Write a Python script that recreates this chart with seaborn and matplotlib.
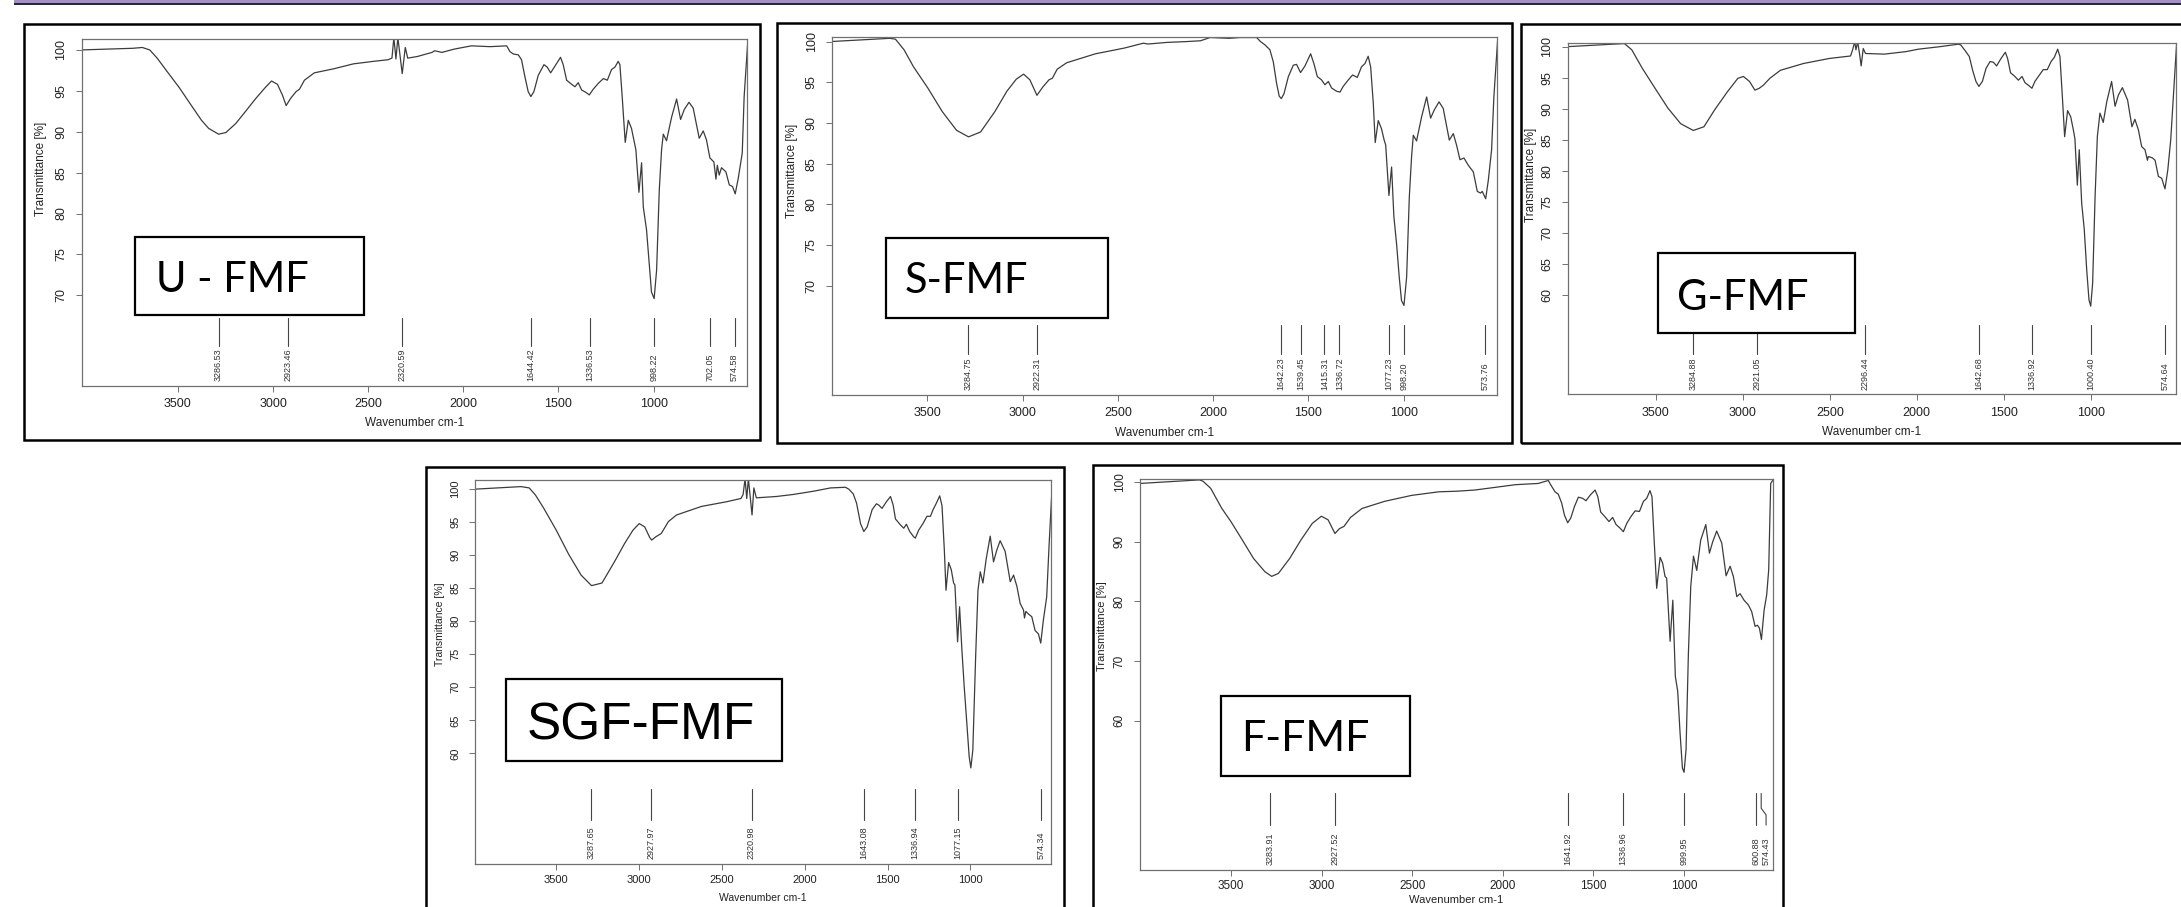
import matplotlib
matplotlib.use("Agg")
import matplotlib.pyplot as plt
from matplotlib.patches import Rectangle
import seaborn as sns

sns.set_style("ticks")
plt.rcParams['font.family'] = ['Liberation Sans', 'DejaVu Sans']

W, H = 2181, 907

# ---- spectra: wavenumber (cm-1) and transmittance (%) ----
u_wn = [4010, 3738, 3687, 3648, 3609, 3558, 3493, 3429, 3376, 3338, 3286, 3248, 3196, 3144, 3093,
        3041, 3008, 2977, 2951, 2931, 2907, 2879, 2861, 2835, 2783, 2680, 2577, 2474, 2396, 2375,
        2365, 2354, 2344, 2334, 2321, 2305, 2292, 2241, 2164, 2151, 2112, 2048, 1957, 1860,
        1772, 1755, 1737, 1711, 1694, 1676, 1659, 1645, 1629, 1606, 1576, 1559, 1541, 1519, 1489,
        1475, 1457, 1431, 1413, 1396, 1378, 1355, 1338, 1317, 1291, 1264, 1243, 1221, 1203, 1186,
        1177, 1165, 1149, 1133, 1116, 1102, 1093, 1077, 1063, 1054, 1037, 1023, 1011, 997, 984,
        970, 958, 949, 932, 905, 879, 858, 839, 814, 792, 760, 739, 722, 704, 683, 672, 665, 655,
        643, 620, 602, 585, 571, 555, 534, 524, 505]
u_t = [100.0, 100.2, 100.3, 100.0, 99.0, 97.4, 95.4, 93.2, 91.4, 90.4, 89.7, 89.9, 91.0, 92.5, 94.0,
       95.4, 96.2, 95.8, 94.5, 93.2, 94.1, 94.9, 95.2, 96.3, 97.2, 97.7, 98.3, 98.6, 98.8, 99.0,
       101.5, 98.9, 101.5, 99.6, 97.1, 100.3, 99.0, 99.2, 99.7, 99.9, 99.7, 100.1, 100.5, 100.4,
       100.5, 99.8, 99.5, 99.4, 98.8, 96.7, 94.9, 94.3, 94.9, 96.9, 98.2, 97.9, 97.2, 98.0, 99.1,
       98.2, 96.3, 95.8, 95.5, 96.0, 95.1, 94.8, 94.5, 95.2, 95.9, 96.5, 96.3, 97.6, 97.9, 98.6,
       98.2, 94.3, 88.7, 91.4, 90.4, 88.8, 87.8, 82.6, 86.2, 80.8, 78.0, 73.9, 70.4, 69.6, 73.1,
       82.9, 87.8, 89.7, 88.9, 91.8, 94.0, 91.5, 92.7, 93.6, 92.9, 89.2, 90.1, 89.0, 86.8, 86.3, 84.2, 85.9, 84.7,
       85.6, 85.1, 83.5, 83.3, 82.4, 84.3, 87.4, 94.3, 101.0]
u_peaks = [3286.53, 2923.46, 2320.59, 1644.42, 1336.53, 998.22, 702.05, 574.58]

s_wn = [4010, 3698, 3668, 3623, 3573, 3498, 3422, 3347, 3284, 3221, 3146, 3083, 3033, 2995, 2962,
        2925, 2895, 2862, 2844, 2819, 2769, 2618, 2467, 2367, 2342, 2242, 2141, 2066, 2016, 1915, 1859,
        1772, 1751, 1728, 1702, 1684, 1667, 1653, 1642, 1628, 1605, 1579, 1562, 1541, 1518, 1488,
        1471, 1453, 1431, 1413, 1395, 1378, 1352, 1334, 1317, 1290, 1268, 1243, 1221, 1203, 1186,
        1173, 1159, 1149, 1133, 1116, 1102, 1094, 1077, 1063, 1051, 1037, 1023, 1011, 998, 984,
        970, 958, 949, 932, 905, 879, 858, 839, 814, 792, 760, 739, 722, 704, 683, 660, 634, 613,
        596, 587, 569, 555, 538, 526, 504]
s_t = [100.0, 100.4, 100.3, 99.0, 96.9, 94.3, 91.4, 89.1, 88.3, 88.9, 91.4, 93.9, 95.4, 96.0, 95.3,
       93.4, 94.4, 95.3, 95.5, 96.6, 97.4, 98.5, 99.2, 99.8, 99.7, 99.9, 100.0, 100.1, 100.5, 100.4, 100.5,
       100.5, 100.0, 99.6, 99.0, 97.5, 94.9, 93.3, 93.0, 93.6, 95.7, 97.1, 97.2, 96.2, 97.0, 98.5,
       97.3, 95.7, 95.3, 94.7, 95.1, 94.3, 93.9, 93.8, 94.5, 95.3, 95.9, 95.6, 96.9, 97.3, 98.2,
       96.9, 92.4, 87.6, 90.3, 89.3, 87.9, 87.3, 81.1, 84.6, 78.5, 75.2, 71.1, 68.2, 67.6, 71.1,
       80.9, 85.9, 88.5, 87.8, 90.8, 93.2, 90.6, 91.6, 92.6, 91.8, 87.9, 88.7, 87.3, 85.5, 85.7, 84.8, 84.0, 81.6,
       81.4, 81.6, 80.7, 83.0, 86.7, 93.2, 101.0]
s_peaks = [3284.75, 2922.31, 1642.23, 1539.45, 1415.31, 1336.72, 1077.23, 998.20, 573.76]

g_wn = [4010, 3749, 3681, 3639, 3578, 3505, 3431, 3358, 3285, 3224, 3163, 3090, 3029, 2997, 2962,
        2931, 2906, 2882, 2845, 2784, 2650, 2503, 2381, 2369, 2357, 2350, 2340, 2327, 2320, 2308,
        2295, 2186, 2063, 1990, 1867,
        1761, 1748, 1723, 1698, 1679, 1660, 1643, 1623, 1602, 1579, 1560, 1541, 1518, 1491, 1478,
        1461, 1436, 1416, 1395, 1378, 1359, 1338, 1321, 1296, 1273, 1250, 1228, 1209, 1190, 1177,
        1163, 1150, 1133, 1115, 1100, 1091, 1077, 1066, 1052, 1037, 1023, 1010, 1000, 989, 975,
        962, 947, 928, 908, 880, 860, 841, 818, 788, 763, 746, 726, 707, 688, 674, 669, 646, 630,
        611, 592, 573, 557, 540, 525, 505]
g_t = [100.0, 100.4, 100.5, 99.5, 96.5, 93.3, 90.1, 87.6, 86.5, 87.1, 89.8, 92.7, 94.9, 95.2, 94.4,
       93.0, 93.3, 93.8, 94.9, 96.2, 97.3, 98.1, 98.5, 99.5, 100.8, 99.5, 100.8, 98.4, 96.9, 99.7,
       98.9, 98.8, 99.2, 99.6, 100.0,
       100.4, 100.3, 99.4, 98.4, 96.2, 94.4, 93.6, 94.4, 96.5, 97.6, 97.5, 96.9, 98.0, 99.1, 98.1,
       95.8, 95.2, 94.6, 95.2, 94.2, 93.8, 93.3, 94.4, 95.4, 96.3, 96.3, 97.6, 98.3, 99.6, 98.4,
       91.9, 85.5, 89.7, 88.7, 86.6, 85.2, 77.7, 83.4, 74.8, 70.5, 64.0, 59.2, 58.2, 61.9, 75.8,
       85.5, 89.3, 87.8, 91.1, 94.4, 90.4, 92.2, 93.4, 91.4, 87.1, 88.3, 86.6, 83.9, 83.4, 81.7, 82.3, 82.1, 81.7,
       79.1, 78.8, 77.1, 80.1, 85.0, 91.9, 101.0]
g_peaks = [3284.88, 2921.05, 2296.44, 1642.68, 1336.92, 1000.40, 574.64]

sgf_wn = [4000, 3713, 3663, 3625, 3575, 3500, 3424, 3350, 3287, 3224, 3149, 3087, 3037, 2999, 2966,
          2936, 2924, 2899, 2866, 2823, 2774, 2623, 2473, 2385, 2372, 2360, 2350, 2340, 2330, 2318,
          2307, 2292, 2172, 2072, 1947, 1844,
          1754, 1733, 1707, 1687, 1663, 1643, 1623, 1593, 1567, 1553, 1533, 1507, 1482, 1466, 1452,
          1422, 1402, 1386, 1366, 1342, 1332, 1312, 1286, 1262, 1241, 1225, 1205, 1185, 1171, 1157,
          1147, 1131, 1115, 1101, 1093, 1077, 1065, 1051, 1037, 1021, 1007, 997, 985, 968, 954,
          940, 924, 904, 880, 860, 840, 820, 790, 759, 739, 719, 699, 679, 673, 665, 649, 629,
          609, 589, 575, 559, 539, 525, 505]
sgf_t = [100.0, 100.4, 100.2, 99.1, 97.1, 93.8, 90.1, 87.0, 85.4, 85.8, 89.0, 91.8, 93.8, 94.8, 94.3,
         92.7, 92.3, 92.8, 93.3, 95.1, 96.1, 97.4, 98.1, 98.6, 99.2, 101.6, 98.6, 101.6, 99.1, 96.1,
         100.2, 98.7, 98.9, 99.2, 99.7, 100.2,
         100.3, 100.0, 99.3, 97.9, 94.8, 93.6, 94.3, 96.9, 97.8, 97.6, 97.1, 98.1, 98.9, 97.6, 95.5,
         94.6, 94.1, 94.7, 93.6, 92.8, 92.6, 93.8, 94.8, 95.9, 95.9, 96.9, 97.9, 99.0, 97.5, 90.8,
         84.7, 88.9, 87.8, 85.8, 85.5, 76.9, 82.2, 75.7, 70.1, 64.5, 59.5, 57.8, 60.5, 74.6, 84.7,
         87.5, 85.8, 89.5, 92.9, 89.0, 90.8, 92.2, 90.6, 86.0, 87.0, 85.3, 82.7, 81.7, 80.5, 81.5, 81.1, 80.7,
         78.6, 78.1, 76.7, 80.2, 83.7, 91.3, 101.0]
sgf_peaks = [3287.65, 2927.97, 2320.98, 1643.08, 1336.94, 1077.15, 574.34]

f_wn = [4005, 3674, 3655, 3612, 3550, 3500, 3437, 3375, 3313, 3275, 3238, 3176, 3114, 3051, 3001,
        2964, 2926, 2902, 2876, 2840, 2777, 2652, 2503, 2353, 2253, 2154, 2054, 1929, 1805,
        1749, 1736, 1712, 1694, 1675, 1660, 1642, 1625, 1605, 1583, 1559, 1541, 1519, 1491, 1476,
        1460, 1436, 1414, 1394, 1375, 1353, 1335, 1316, 1294, 1270, 1246, 1224, 1206, 1188, 1177,
        1166, 1151, 1132, 1118, 1105, 1096, 1077, 1062, 1048, 1035, 1022, 1009, 1000, 989, 976,
        963, 948, 930, 908, 880, 860, 842, 820, 792, 768, 746, 728, 709, 691, 669, 645, 627,
        608, 595, 584, 573, 558, 544, 533, 522, 505]
f_t = [99.8, 100.4, 100.2, 99.0, 95.6, 93.4, 90.3, 87.2, 85.0, 84.2, 84.7, 87.2, 90.3, 93.1, 94.3,
       93.7, 91.4, 92.2, 92.6, 94.1, 95.6, 96.8, 97.8, 98.4, 98.5, 98.7, 99.1, 99.6, 99.8,
       100.3, 99.6, 98.4, 98.0, 96.5, 94.5, 93.2, 94.0, 95.9, 97.5, 97.3, 96.9, 97.8, 98.7, 97.6,
       95.0, 94.2, 93.4, 94.1, 92.9, 92.3, 91.7, 93.1, 94.2, 95.2, 95.1, 96.8, 97.3, 98.6, 97.6,
       90.9, 82.2, 87.4, 86.4, 84.2, 83.9, 73.3, 80.2, 67.4, 64.9, 57.9, 52.0, 51.3, 55.1, 71.3,
       82.5, 87.6, 85.2, 90.3, 92.9, 88.1, 90.0, 91.8, 89.8, 84.3, 85.9, 84.2, 80.8, 81.3, 80.2, 79.4, 78.3,
       75.8, 76.0, 75.5, 73.6, 78.6, 81.1, 85.3, 99.8, 100.6]
f_peaks = [3283.91, 2927.52, 1641.92, 1336.96, 999.95, 600.88, 574.43]

x_ticks = [3500, 3000, 2500, 2000, 1500, 1000]

# ---- layout, in pixels of the 2181x907 picture ----
PANELS = [
    dict(name='U - FMF', wn=u_wn, t=u_t, peaks=u_peaks, axes=(82, 39.3, 747, 385.7),
         xlim=(4004, 509), ylim=(58.95, 101.3), yticks=[70, 75, 80, 85, 90, 95, 100],
         frame=(24, 24, 760, 440), box=(135, 237, 363.5, 315), text_xy=(156, 292),
         font='Lato', fsize=30, tsize=9, xlab_y=-0.108, xpad=4.5),
    dict(name='S-FMF', wn=s_wn, t=s_t, peaks=s_peaks, axes=(832.2, 36.7, 1497.3, 395),
         xlim=(4000, 508), ylim=(56.6, 100.6), yticks=[70, 75, 80, 85, 90, 95, 100],
         frame=(777, 22.7, 1511.6, 442.7), box=(886, 238, 1108, 318), text_xy=(905, 293),
         font='Lato', fsize=30, tsize=9, xlab_y=-0.107, xpad=4.5),
    dict(name='G-FMF', wn=g_wn, t=g_t, peaks=g_peaks, axes=(1568.1, 42.7, 2175.6, 394.3),
         xlim=(4005, 512), ylim=(44.0, 100.64), yticks=[60, 65, 70, 75, 80, 85, 90, 95, 100],
         frame=(1521.4, 24, 2195, 442.7), box=(1658, 253, 1855, 333), text_xy=(1677, 310),
         font='Lato', fsize=30, tsize=9, xlab_y=-0.107, xpad=4.5),
    dict(name='SGF-FMF', wn=sgf_wn, t=sgf_t, peaks=sgf_peaks, axes=(475.1, 480, 1051, 864.3),
         xlim=(3990, 513), ylim=(43.2, 101.4), yticks=[60, 65, 70, 75, 80, 85, 90, 95, 100],
         frame=(426.2, 466.7, 1063.5, 930), box=(506, 679, 782, 761), text_xy=(527, 740),
         font='Liberation Sans', fsize=37, tsize=8, xlab_y=-0.088, xpad=3.5),
    dict(name='F-FMF', wn=f_wn, t=f_t, peaks=f_peaks, axes=(1140.3, 479.3, 1772.5, 870),
         xlim=(4000, 512), ylim=(34.9, 100.5), yticks=[60, 70, 80, 90, 100],
         frame=(1093.2, 465, 1783, 930), box=(1221, 696, 1410, 776), text_xy=(1241, 751),
         font='Lato', fsize=31, tsize=8.5, xlab_y=-0.077, xpad=2.5),
]

LINE = '#3c3c3c'
FRAME = '#707070'


def fig_rect(x0, y0, x1, y1):
    return [x0 / W, 1 - y1 / H, (x1 - x0) / W, (y1 - y0) / H]


fig = plt.figure(figsize=(W / 100, H / 100), dpi=100)
fig.patch.set_facecolor('white')

# header strip of the slide
fig.patches.append(Rectangle((14 / W, 1 - 3 / H), 1, 3 / H, transform=fig.transFigure,
                             facecolor='#a38fc4', edgecolor='none', zorder=2))
fig.patches.append(Rectangle((14 / W, 1 - 4.8 / H), 1, 1.8 / H, transform=fig.transFigure,
                             facecolor='#2a2a2a', edgecolor='none', zorder=2))

for p in PANELS:
    ax = fig.add_axes(fig_rect(*p['axes']))
    sns.lineplot(x=p['wn'], y=p['t'], ax=ax, color=LINE, linewidth=0.9,
                 sort=False, estimator=None)
    ax.set_xlim(*p['xlim'])
    ax.set_ylim(*p['ylim'])
    ax.set_xticks(x_ticks)
    ax.set_yticks(p['yticks'])
    ax.tick_params(direction='out', length=4.5, width=0.7, color=FRAME,
                   labelsize=p['tsize'], labelcolor='#222222')
    ax.tick_params(axis='x', pad=p['xpad'])
    ax.tick_params(axis='y', pad=6, labelrotation=90)
    for lab in ax.get_yticklabels():
        lab.set_verticalalignment('center')
    for sp in ax.spines.values():
        sp.set_visible(True)
        sp.set_color(FRAME)
        sp.set_linewidth(0.9)

    ax.set_xlabel('Wavenumber cm-1', fontsize=p['tsize'] - 0.5, color='#222222')
    ax.set_ylabel('Transmittance [%]', fontsize=p['tsize'] - 0.5, color='#222222')
    ax.xaxis.set_label_coords(0.5, p['xlab_y'])
    ax.xaxis.label.set_verticalalignment('center')
    ax.yaxis.set_label_coords(-0.061, 0.625)
    ax.yaxis.label.set_verticalalignment('center')

    # peak markers with their labels
    trans = ax.get_xaxis_transform()
    for pk in p['peaks']:
        shift = -27 if (p['name'] == 'F-FMF' and pk < 580) else 0
        if shift:
            ax.plot([pk, pk, pk + shift, pk + shift], [0.196, 0.158, 0.141, 0.115],
                    transform=trans, color='#444444', lw=0.8, clip_on=False)
        else:
            ax.plot([pk, pk], [0.196, 0.115], transform=trans, color='#444444', lw=0.8)
        ax.text(pk + shift, 0.013, f'{pk:.2f}', transform=trans, rotation=90,
                ha='center', va='bottom', fontsize=6.5, color='#333333')

    # outer frame of the panel
    fig.patches.append(Rectangle((p['frame'][0] / W, 1 - p['frame'][3] / H),
                                 (p['frame'][2] - p['frame'][0]) / W,
                                 (p['frame'][3] - p['frame'][1]) / H,
                                 transform=fig.transFigure, fill=False,
                                 edgecolor='black', linewidth=1.8, zorder=3))
    # sample name box
    bx = p['box']
    fig.patches.append(Rectangle((bx[0] / W, 1 - bx[3] / H), (bx[2] - bx[0]) / W,
                                 (bx[3] - bx[1]) / H, transform=fig.transFigure,
                                 facecolor='white', edgecolor='black', linewidth=1.6, zorder=5))
    fig.text(p['text_xy'][0] / W, 1 - p['text_xy'][1] / H, p['name'],
             fontsize=p['fsize'], family=[p['font'], 'DejaVu Sans'], color='black',
             ha='left', va='baseline', zorder=6)

fig.savefig('out.png', dpi=100)
